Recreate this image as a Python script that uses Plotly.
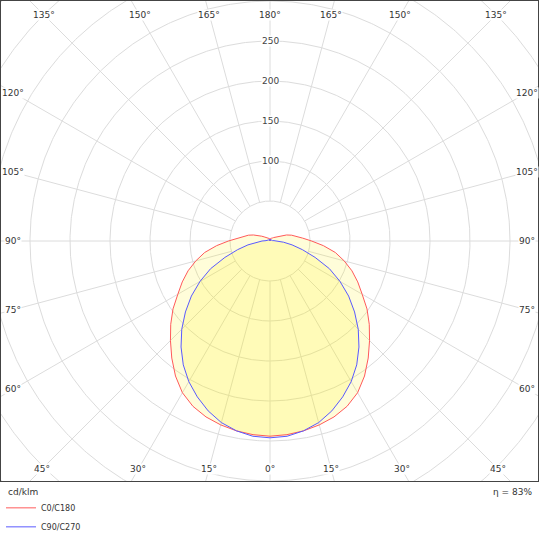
import numpy as np
import plotly.graph_objects as go

# Polar intensity data (cd/klm), gamma measured from nadir
gamma = [0, 5, 10, 15, 20, 25, 30, 35, 40, 45, 50, 55, 60, 65, 70, 75, 80, 85, 90,
         95, 100, 105, 110, 115, 120, 125, 130, 135, 140, 145, 150, 155, 160, 165, 170, 175, 180]

c0_c180 = [244, 243, 241, 238, 234, 228, 219, 206, 191, 176, 162, 148, 133, 121, 109, 96, 83, 67, 52,
           41, 34, 28, 22, 17, 12, 9, 7, 6, 5, 4, 4, 4, 3, 3, 3, 2, 0]

c90_c270 = [246, 245, 241, 235, 226, 215, 203, 189, 173, 156, 138, 120, 101, 82, 60, 42, 28, 17, 10,
            5, 3, 2, 2, 2, 2, 2, 2, 2, 2, 2, 2, 2, 2, 2, 2, 2, 0]

# Grid
rings = [50, 100, 150, 200, 250, 300, 350, 400, 450]
ring_labels = [100, 150, 200, 250]
spokes = list(range(0, 360, 15))

grid_col = '#dcdcdc'
txt_col = '#333333'
font_fam = 'DejaVu Sans'


def to_xy(ang_deg, r):
    a = np.radians(np.asarray(ang_deg, dtype=float))
    r = np.asarray(r, dtype=float)
    return r * np.sin(a), -r * np.cos(a)


def curve(values):
    # C0 on the right, C180 mirrored on the left
    g = np.array(gamma, dtype=float)
    v = np.array(values, dtype=float)
    ang = np.concatenate([g[::-1], -g[1:]])
    rr = np.concatenate([v[::-1], v[1:]])
    return to_xy(ang, rr)


fig = go.Figure()

# rings
gx, gy = [], []
t = np.linspace(0, 360, 721)
for r in rings:
    x, y = to_xy(t, np.full_like(t, r))
    gx += list(x) + [None]
    gy += list(y) + [None]
# spokes
for s in spokes:
    x, y = to_xy([s, s], [50, 600])
    gx += list(x) + [None]
    gy += list(y) + [None]

fig.add_trace(go.Scatter(x=gx, y=gy, mode='lines', line=dict(color=grid_col, width=1),
                         hoverinfo='skip', showlegend=False))

# fills
for vals in [c0_c180, c90_c270]:
    x, y = curve(vals)
    fig.add_trace(go.Scatter(x=x, y=y, mode='lines', fill='toself',
                             fillcolor='rgba(255, 240, 0, 0.15)', line=dict(width=0),
                             hoverinfo='skip', showlegend=False))

# outlines
x, y = curve(c0_c180)
fig.add_trace(go.Scatter(x=x, y=y, mode='lines', name='C0/C180',
                         line=dict(color='#ff5a5a', width=1)))
x, y = curve(c90_c270)
fig.add_trace(go.Scatter(x=x, y=y, mode='lines', name='C90/C270',
                         line=dict(color='#5a5aff', width=1)))

annotations = []

# radial labels along 180 deg
for r in ring_labels:
    annotations.append(dict(x=0, y=r, text=str(r), showarrow=False, bgcolor='white',
                            borderpad=0, font=dict(size=9, color='#444444', family=font_fam)))

# angle labels where spokes meet an inset box
x_in, y_top, y_bot = 321.25, 282.5, -285.0
for s in spokes:
    dx, dy = np.sin(np.radians(s)), -np.cos(np.radians(s))
    cand = []
    if dx > 1e-9:
        cand.append(x_in / dx)
    if dx < -1e-9:
        cand.append(-x_in / dx)
    if dy > 1e-9:
        cand.append(y_top / dy)
    if dy < -1e-9:
        cand.append(y_bot / dy)
    k = min(cand)
    lab = s if s <= 180 else 360 - s
    annotations.append(dict(x=k * dx, y=k * dy, text=f'{lab}°', showarrow=False,
                            bgcolor='white', borderpad=0,
                            font=dict(size=9, color=txt_col, family=font_fam)))

# footer texts
annotations.append(dict(xref='paper', yref='paper', x=0, y=-0.023, xanchor='left', yanchor='middle',
                        xshift=5, text='cd/klm', showarrow=False,
                        font=dict(size=9, color=txt_col, family=font_fam)))
annotations.append(dict(xref='paper', yref='paper', x=1, y=-0.023, xanchor='right', yanchor='middle',
                        xshift=-4, text='η = 83%', showarrow=False,
                        font=dict(size=9, color=txt_col, family=font_fam)))

fig.update_layout(
    width=540,
    height=538,
    margin=dict(l=1, r=2, t=1, b=57),
    plot_bgcolor='white',
    paper_bgcolor='white',
    xaxis=dict(range=[-336.25, 335], showgrid=False, zeroline=False, showticklabels=False,
               ticks='', showline=True, mirror=True, linecolor='#444444', linewidth=1, fixedrange=True),
    yaxis=dict(range=[-300, 300], showgrid=False, zeroline=False, showticklabels=False,
               ticks='', showline=True, mirror=True, linecolor='#444444', linewidth=1, fixedrange=True),
    showlegend=True,
    legend=dict(xref='paper', yref='container', x=0, y=0.083, xanchor='left', yanchor='top',
                bgcolor='rgba(0,0,0,0)', tracegroupgap=0,
                font=dict(size=8, color=txt_col, family=font_fam)),
    annotations=annotations,
    template=None
)

# page margin off so the figure sits at the window's top-left corner
fig.write_html('out.html', config={'displayModeBar': False},
               post_script="document.body.style.margin='0';document.body.style.overflow='hidden';")
